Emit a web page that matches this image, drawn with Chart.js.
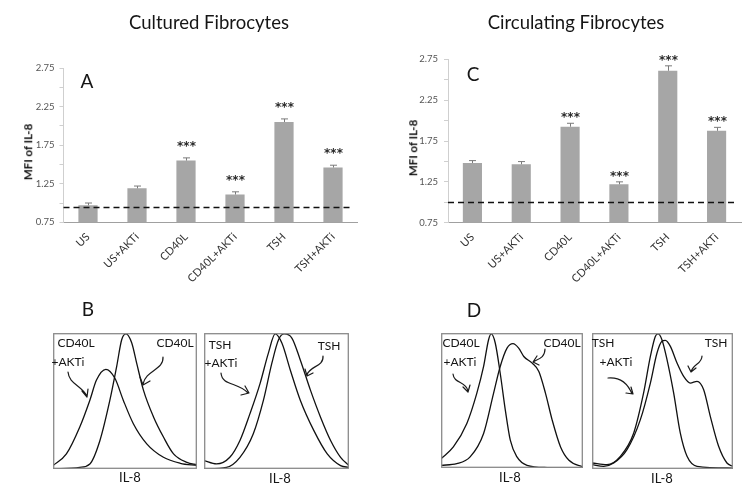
<!DOCTYPE html>
<html><head><meta charset="utf-8">
<script src="https://cdn.jsdelivr.net/npm/chart.js@4.4.0/dist/chart.umd.min.js"></script>
<style>
body{margin:0;background:#fff;}
#page{position:relative;width:750px;height:497px;overflow:hidden;background:#fff;font-family:Lato,"Open Sans",sans-serif;}
canvas{position:absolute;display:block;}
.t{position:absolute;white-space:nowrap;transform:translate(-50%,-50%);color:#151515;line-height:1;}
.yt{position:absolute;white-space:nowrap;transform:translate(-50%,-50%) rotate(-90deg);font-weight:bold;font-size:11.5px;color:#111;line-height:1;}
svg{position:absolute;left:0;top:0;pointer-events:none;}
</style></head><body>
<div id="page">
  <canvas id="chartA" width="375" height="300" style="left:0;top:0"></canvas>
  <canvas id="chartC" width="375" height="300" style="left:375px;top:0"></canvas>
  <canvas id="histB1" width="144" height="136" style="left:53px;top:333px"></canvas>
  <canvas id="histB2" width="145" height="136" style="left:204px;top:333px"></canvas>
  <canvas id="histD1" width="142" height="135" style="left:441px;top:333px"></canvas>
  <canvas id="histD2" width="141" height="136" style="left:592px;top:333px"></canvas>

  <div class="t" style="left:209px;top:22px;font-size:18.5px">Cultured Fibrocytes</div>
  <div class="t" style="left:576px;top:22px;font-size:18.5px">Circulating Fibrocytes</div>
  <div class="t" style="left:87px;top:80px;font-size:19px">A</div>
  <div class="t" style="left:473px;top:73px;font-size:19px">C</div>
  <div class="t" style="left:88px;top:308px;font-size:19px">B</div>
  <div class="t" style="left:474px;top:309px;font-size:19px">D</div>
  <div class="yt" style="left:28px;top:152px">MFI of IL-8</div>
  <div class="yt" style="left:413px;top:148px">MFI of IL-8</div>

  <div class="t" style="left:76px;top:343px;font-size:12px">CD40L</div>
  <div class="t" style="left:68px;top:362px;font-size:12px">+AKTi</div>
  <div class="t" style="left:175px;top:343px;font-size:12px">CD40L</div>
  <div class="t" style="left:220px;top:345px;font-size:12px">TSH</div>
  <div class="t" style="left:221px;top:363px;font-size:12px">+AKTi</div>
  <div class="t" style="left:329px;top:346px;font-size:12px">TSH</div>
  <div class="t" style="left:461px;top:343px;font-size:12px">CD40L</div>
  <div class="t" style="left:460px;top:362px;font-size:12px">+AKTi</div>
  <div class="t" style="left:562px;top:343px;font-size:12px">CD40L</div>
  <div class="t" style="left:603px;top:343px;font-size:12px">TSH</div>
  <div class="t" style="left:616px;top:362px;font-size:12px">+AKTi</div>
  <div class="t" style="left:716px;top:343px;font-size:12px">TSH</div>

  <div class="t" style="left:130px;top:477px;font-size:13px">IL-8</div>
  <div class="t" style="left:280px;top:478px;font-size:13px">IL-8</div>
  <div class="t" style="left:510px;top:477px;font-size:13px">IL-8</div>
  <div class="t" style="left:662px;top:478px;font-size:13px">IL-8</div>

  <svg width="750" height="497" fill="none" stroke="#1a1a1a" stroke-width="1.2" stroke-linecap="round" stroke-linejoin="round">
    <path d="M68,372 C69,384 81,385 87,396 M82,391 L87,397 L88,389"/>
    <path d="M163,357 C164,370 146,370 143,384 M140,377 L143,385 L150,381"/>
    <path d="M221,373 C222,386 238,382 248,393 M241,395 L249,393 L245,386"/>
    <path d="M323,356 C324,367 309,366 307,375 M305,369 L307,376 L313,373"/>
    <path d="M453,374 C454,384 466,381 468,391 M463,387 L468,392 L470,385"/>
    <path d="M545,349 C545,358 538,359 533,362 M537,356 L533,362 L539,365"/>
    <path d="M608,378 C620,377 628,384 632,394 M626,393 L633,394 L631,387"/>
    <path d="M702,356 C702,364 693,364 691,372 M688,366 L691,372 L696,368"/>
  </svg>
</div>
<script>
// ---------- data ----------
const categories = ['US', 'US+AKTi', 'CD40L', 'CD40L+AKTi', 'TSH', 'TSH+AKTi'];
const yTickLabels = [0.75, 1.25, 1.75, 2.25, 2.75];

const culturedMFI = [0.97, 1.19, 1.55, 1.11, 2.05, 1.46];
const culturedErr = [0.03, 0.03, 0.035, 0.035, 0.04, 0.03];
const culturedStars = ['', '', '***', '***', '***', '***'];
const culturedBaseline = 0.95;

const circulatingMFI = [1.48, 1.465, 1.925, 1.22, 2.61, 1.875];
const circulatingErr = [0.03, 0.033, 0.042, 0.03, 0.06, 0.042];
const circulatingStars = ['', '', '***', '***', '***', '***'];
const circulatingBaseline = 1.0;

// histogram curves: [x %, y % of max]
const histB_CD40L_AKTi = [[0,2.5],[9.3,11.1],[18.6,30.9],[25.6,50.6],[30.2,65.4],[36.7,73.3],[43,66.7],[48.8,50.6],[55.8,33.3],[65.1,18.5],[76.7,8.6],[88.4,4.2],[100,2.5]];
const histB_CD40L = [[0,0],[18.6,1.2],[25.6,3.7],[32.6,21],[39.5,50.6],[44.2,75.3],[47.7,95],[50.7,99.3],[54.7,92.6],[58.1,77.8],[62.8,58],[69.8,38.3],[76.7,23.5],[83.7,11.1],[93,4.9],[100,3.2]];
const histB_TSH_AKTi = [[0,6.2],[8.6,3.7],[17.8,8.6],[24.8,21],[31.7,40.7],[38.7,63],[44.4,85.2],[49.1,99.3],[53.7,92.6],[59.5,72.8],[66.4,50.6],[75.7,28.4],[85,11.1],[94.2,2.5],[100,1.2]];
const histB_TSH = [[0,0],[15.5,1.2],[24.8,8.6],[34,25.9],[41,50.6],[46.8,77.8],[51.4,95],[55.3,99.3],[60.6,96.3],[66.4,80.2],[73.4,58],[80.3,38.3],[87.3,21],[94.2,8.6],[100,2.5]];
const histD_CD40L_AKTi = [[0,6.9],[8.7,15.6],[18.2,33],[25.2,55.3],[30,75.2],[33.5,95],[35.4,99.3],[38.2,92.6],[41.7,70.2],[45.3,42.9],[48.8,20.6],[53.5,8.2],[60.6,2],[74.8,0.3],[100,0]];
const histD_CD40L = [[0,2],[11.1,3.2],[20.5,8.2],[30,25.6],[37,55.3],[41.7,75.2],[46.5,88.8],[50.7,92.1],[54.7,88.8],[58.3,82.6],[64.2,77.7],[68.9,71.5],[73.6,55.3],[78.3,35.5],[84.2,15.6],[90.1,5.7],[100,0.7]];
const histD_TSH_AKTi = [[0,4.4],[10.6,3.2],[20.1,9.3],[29.6,26.5],[36.6,55.9],[41.4,82.8],[44.9,97.5],[46.8,99.3],[49.6,95.1],[53.2,80.4],[57.9,55.9],[62.6,26.5],[67.4,9.3],[74.5,2],[100,0.7]];
const histD_TSH = [[0,3.2],[8.3,2],[15.4,4.4],[24.8,14.2],[34.3,36.3],[41.4,63.2],[46.1,85.3],[49.6,93.9],[52,94.6],[55.6,90.2],[60.3,77.9],[65,68.1],[69.7,63.2],[74.5,64.5],[79.2,58.3],[83.9,38.7],[89.8,16.7],[95.7,4.4],[100,2]];

// ---------- charts ----------
function barOverlay(errs, stars, baseline, starOffset) {
  return {
    id: 'barOverlay',
    afterDatasetsDraw(chart) {
      const {ctx, chartArea, scales: {y}} = chart;
      const meta = chart.getDatasetMeta(0);
      const vals = chart.data.datasets[0].data;
      ctx.save();
      // baseline dashed
      const yb = Math.round(y.getPixelForValue(baseline)) + 0.5;
      ctx.strokeStyle = '#111';
      ctx.lineWidth = 1.6;
      ctx.setLineDash([6, 4]);
      ctx.beginPath();
      ctx.moveTo(chartArea.left, yb);
      ctx.lineTo(chartArea.right - 4, yb);
      ctx.stroke();
      ctx.setLineDash([]);
      // error bars + stars
      ctx.strokeStyle = '#7a7a7a';
      ctx.lineWidth = 1;
      ctx.fillStyle = '#2a2a2a';
      ctx.font = 'bold 12px "DejaVu Sans", sans-serif';
      ctx.textAlign = 'center';
      ctx.textBaseline = 'middle';
      meta.data.forEach((bar, i) => {
        const x = Math.round(bar.x) + 0.5;
        const yTop = y.getPixelForValue(vals[i] + errs[i]);
        const yv = y.getPixelForValue(vals[i]);
        ctx.beginPath();
        ctx.moveTo(x, yv);
        ctx.lineTo(x, yTop);
        ctx.moveTo(x - 3.5, yTop);
        ctx.lineTo(x + 3.5, yTop);
        ctx.stroke();
        if (stars[i]) ctx.fillText(stars[i], x, yTop - starOffset + 3);
      });
      ctx.restore();
    }
  };
}

function makeBar(id, values, errs, stars, baseline, g) {
  return new Chart(document.getElementById(id), {
    type: 'bar',
    data: {
      labels: categories,
      datasets: [{
        data: values,
        backgroundColor: '#a6a6a6',
        borderWidth: 0,
        barPercentage: 0.8,
        categoryPercentage: 0.49
      }]
    },
    options: {
      responsive: false,
      animation: false,
      devicePixelRatio: 1,
      layout: {padding: {left: 0, top: g.top, right: g.right, bottom: 0}},
      plugins: {legend: {display: false}, tooltip: {enabled: false}},
      scales: {
        x: {
          grid: {display: false, drawTicks: false},
          border: {display: true, color: '#a0a0a0', width: 1},
          ticks: {
            maxRotation: 45, minRotation: 45, padding: 8,
            color: '#333', font: {family: 'Lato, sans-serif', size: 11}
          },
          afterFit: s => { s.height = g.xh; }
        },
        y: {
          min: 0.75, max: 2.75,
          grid: {display: true, drawOnChartArea: false, drawTicks: true, tickLength: 4, color: '#cfcfcf'},
          border: {display: true, color: '#cfcfcf', width: 1},
          ticks: {
            stepSize: 0.25, autoSkip: false, padding: g.tp,
            color: '#555', font: {family: 'Lato, sans-serif', size: 9.5},
            callback: v => yTickLabels.some(t => Math.abs(t - v) < 1e-6) ? v.toFixed(2) : ''
          },
          afterFit: s => { s.width = g.yw; }
        }
      }
    },
    plugins: [barOverlay(errs, stars, baseline, g.so)]
  });
}

makeBar('chartA', culturedMFI, culturedErr, culturedStars, culturedBaseline,
  {top: 68, right: 17.5, xh: 77.7, yw: 63.5, tp: 5, so: 14});
makeBar('chartC', circulatingMFI, circulatingErr, circulatingStars, circulatingBaseline,
  {top: 59.3, right: 9, xh: 77.3, yw: 73, tp: 6, so: 8});

const frame = {
  id: 'frame',
  afterDraw(chart) {
    const {ctx, chartArea: a} = chart;
    ctx.save();
    ctx.strokeStyle = '#8a8a8a';
    ctx.lineWidth = 1.3;
    ctx.strokeRect(a.left + 0.7, a.top + 0.7, a.right - a.left - 1.4, a.bottom - a.top - 1.4);
    ctx.restore();
  }
};

function makeHist(id, curves) {
  return new Chart(document.getElementById(id), {
    type: 'line',
    data: {
      datasets: curves.map(c => ({
        data: c.map(p => ({x: p[0], y: p[1]})),
        borderColor: '#111',
        borderWidth: 1.3,
        pointRadius: 0,
        fill: false,
        cubicInterpolationMode: 'monotone'
      }))
    },
    options: {
      responsive: false,
      animation: false,
      devicePixelRatio: 1,
      layout: {padding: 0},
      plugins: {legend: {display: false}, tooltip: {enabled: false}},
      scales: {
        x: {type: 'linear', min: 0, max: 100, display: false},
        y: {min: 0, max: 100, display: false}
      }
    },
    plugins: [frame]
  });
}

makeHist('histB1', [histB_CD40L_AKTi, histB_CD40L]);
makeHist('histB2', [histB_TSH_AKTi, histB_TSH]);
makeHist('histD1', [histD_CD40L_AKTi, histD_CD40L]);
makeHist('histD2', [histD_TSH_AKTi, histD_TSH]);
</script>
</body></html>
